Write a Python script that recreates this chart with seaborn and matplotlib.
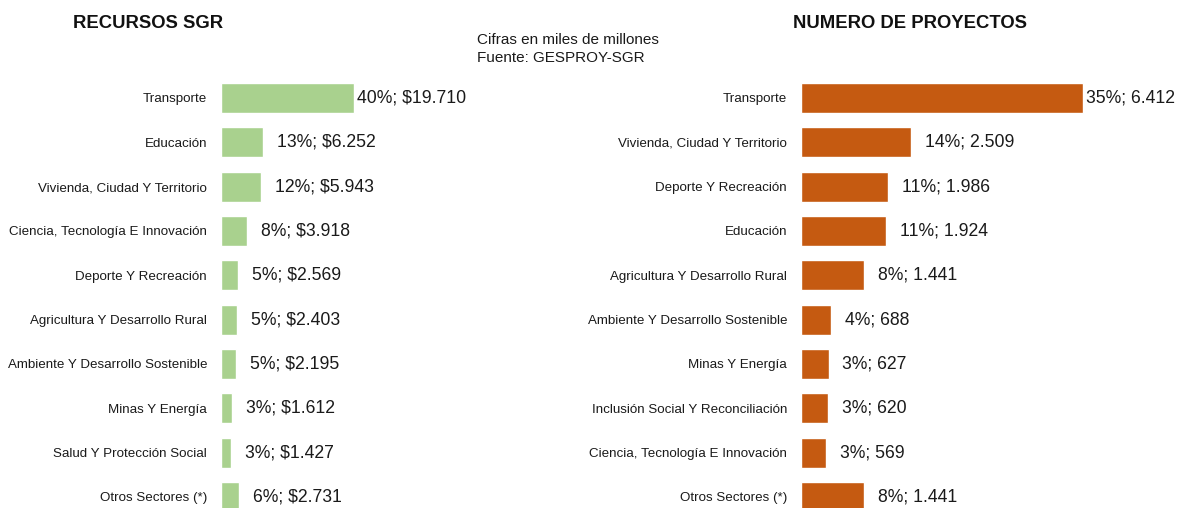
import pandas as pd
import seaborn as sns
import matplotlib.pyplot as plt

# recursos SGR (miles de millones)
rec_sectores = ['Transporte', 'Educación', 'Vivienda, Ciudad Y Territorio',
                'Ciencia, Tecnología E Innovación', 'Deporte Y Recreación',
                'Agricultura Y Desarrollo Rural', 'Ambiente Y Desarrollo Sostenible',
                'Minas Y Energía', 'Salud Y Protección Social', 'Otros Sectores (*)']
rec_valores = [19710, 6252, 5943, 3918, 2569, 2403, 2195, 1612, 1427, 2731]
rec_pct = [40, 13, 12, 8, 5, 5, 5, 3, 3, 6]

# numero de proyectos
proy_sectores = ['Transporte', 'Vivienda, Ciudad Y Territorio', 'Deporte Y Recreación',
                 'Educación', 'Agricultura Y Desarrollo Rural',
                 'Ambiente Y Desarrollo Sostenible', 'Minas Y Energía',
                 'Inclusión Social Y Reconciliación', 'Ciencia, Tecnología E Innovación',
                 'Otros Sectores (*)']
proy_valores = [6412, 2509, 1986, 1924, 1441, 688, 627, 620, 569, 1441]
proy_pct = [35, 14, 11, 11, 8, 4, 3, 3, 3, 8]


def fmt_miles(v):
    return f'{v:,}'.replace(',', '.')


sns.set_theme(style='white')
plt.rcParams['font.family'] = ['Liberation Sans', 'DejaVu Sans']

W, H = 1186, 508
fig = plt.figure(figsize=(W / 100, H / 100), dpi=100)

# axes placed in pixel terms: rows spaced ~44.3 px, first row centred at y=98
row_h = 44.33
top = 98 - row_h / 2
bottom = top + 10 * row_h
ax_l = fig.add_axes([221 / W, (H - bottom) / H, 250 / W, (bottom - top) / H])
ax_r = fig.add_axes([801 / W, (H - bottom) / H, 380 / W, (bottom - top) / H])

df_rec = pd.DataFrame({'sector': rec_sectores, 'valor': rec_valores})
df_proy = pd.DataFrame({'sector': proy_sectores, 'valor': proy_valores})

sns.barplot(data=df_rec, x='valor', y='sector', color='#a9d18e', saturation=1,
            width=0.68, ax=ax_l)
sns.barplot(data=df_proy, x='valor', y='sector', color='#c55a11', saturation=1,
            width=0.68, ax=ax_r)

ax_l.set_xlim(0, 19710 * 250 / 133)
ax_r.set_xlim(0, 6412 * 380 / 282)

for ax, vals, pcts, pre in [(ax_l, rec_valores, rec_pct, '$'),
                            (ax_r, proy_valores, proy_pct, '')]:
    for i, (v, p) in enumerate(zip(vals, pcts)):
        gap = 2 if i == 0 else 10
        ax.annotate(f'{p}%; {pre}{fmt_miles(v)}', xy=(v, i), xytext=(gap, 0),
                    textcoords='offset points', va='center', ha='left',
                    fontsize=12.7, color='#1a1a1a')
    ax.set_ylim(9.5, -0.5)
    ax.set_xlabel('')
    ax.set_ylabel('')
    ax.set_xticks([])
    ax.tick_params(axis='y', length=0, pad=10, labelsize=9.6, labelcolor='#1a1a1a')
    sns.despine(ax=ax, left=True, bottom=True)

fig.text(148 / W, 1 - 23 / H, 'RECURSOS SGR', ha='center', va='center',
         fontsize=13.3, fontweight='bold', color='#111111')
fig.text(910 / W, 1 - 23 / H, 'NUMERO DE PROYECTOS', ha='center', va='center',
         fontsize=13.3, fontweight='bold', color='#111111')
fig.text(477 / W, 1 - 49 / H, 'Cifras en miles de millones\nFuente: GESPROY-SGR',
         ha='left', va='center', fontsize=11, color='#1a1a1a', linespacing=1.45)

fig.savefig('out.png', dpi=100)
